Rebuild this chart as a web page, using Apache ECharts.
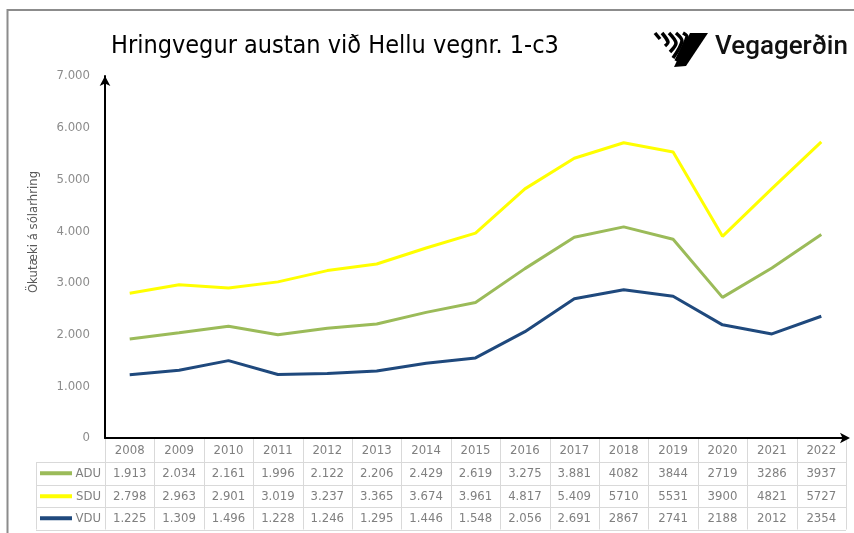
<!DOCTYPE html>
<html>
<head>
<meta charset="utf-8">
<script src="https://cdn.jsdelivr.net/npm/echarts@6/dist/echarts.min.js"></script>
<style>
  html, body { margin: 0; padding: 0; background: #fff; }
  #main { width: 854px; height: 533px; }
</style>
</head>
<body>
<div id="main"></div>
<script>
// ár
const years = ['2008', '2009', '2010', '2011', '2012', '2013', '2014', '2015',
  '2016', '2017', '2018', '2019', '2020', '2021', '2022'];
// ársdagsumferð
const aduValues = [1913, 2034, 2161, 1996, 2122, 2206, 2429, 2619, 3275, 3881, 4082, 3844, 2719, 3286, 3937];
// sumardagsumferð
const sduValues = [2798, 2963, 2901, 3019, 3237, 3365, 3674, 3961, 4817, 5409, 5710, 5531, 3900, 4821, 5727];
// vetrardagsumferð
const vduValues = [1225, 1309, 1496, 1228, 1246, 1295, 1446, 1548, 2056, 2691, 2867, 2741, 2188, 2012, 2354];
// í töflunni eru fyrstu tíu árin með punkti sem þúsundaskil
const dottedCount = 10;

const seriesList = [
  { name: 'ADU', data: aduValues, color: '#9bbb59' },
  { name: 'SDU', data: sduValues, color: '#ffff00' },
  { name: 'VDU', data: vduValues, color: '#1f497d' }
];

const narrow = "'Liberation Sans Narrow', 'DejaVu Sans Condensed', 'Roboto', sans-serif";

function dotted(v) {
  return String(v).replace(/\B(?=(\d{3})+(?!\d))/g, '.');
}

const chart = echarts.init(document.getElementById('main'));

chart.setOption({
  animation: false,
  backgroundColor: '#ffffff',
  grid: { left: 105, right: 8, top: 76, bottom: 95 },
  xAxis: {
    type: 'category',
    data: years,
    boundaryGap: true,
    axisLine: {
      lineStyle: { color: '#000', width: 2 },
      symbol: ['none', 'arrow'],
      symbolSize: [8, 10],
      symbolOffset: [0, 4]
    },
    axisTick: { show: false },
    axisLabel: { color: '#808080', fontSize: 13, fontFamily: narrow, margin: 6 }
  },
  yAxis: {
    type: 'value',
    min: 0,
    max: 7000,
    interval: 1000,
    axisLine: {
      show: true,
      lineStyle: { color: '#000', width: 2 },
      symbol: ['none', 'arrow'],
      symbolSize: [8, 10],
      symbolOffset: [0, 0]
    },
    axisTick: { show: false },
    splitLine: { show: false },
    axisLabel: {
      color: '#8c8c8c', fontSize: 13, fontFamily: narrow, margin: 15,
      formatter: v => dotted(v)
    }
  },
  series: seriesList.map(s => ({
    name: s.name,
    type: 'line',
    data: s.data,
    symbol: 'none',
    lineStyle: { color: s.color, width: 3 },
    itemStyle: { color: s.color }
  }))
});

// tafla undir ásnum
const cx0 = chart.convertToPixel({ xAxisIndex: 0 }, 0);
const cx1 = chart.convertToPixel({ xAxisIndex: 0 }, 1);
const colW = cx1 - cx0;
const tableLeft = cx0 - colW / 2;
const tableRight = tableLeft + colW * years.length;
const yZero = chart.convertToPixel({ yAxisIndex: 0 }, 0);
const legendLeft = 36;
const rowTops = [yZero + 24, yZero + 47, yZero + 69];
const rowH = 22.5;
const tableBottom = rowTops[2] + rowH;
const gridColor = '#d9d9d9';

const g = [];
function line(x1, y1, x2, y2, color, width) {
  g.push({ type: 'line', shape: { x1, y1, x2, y2 }, style: { stroke: color, lineWidth: width || 1 }, silent: true });
}

// lóðréttar línur
for (let i = 0; i <= years.length; i++) {
  const x = Math.round(tableLeft + colW * i) + 0.5;
  line(x, yZero + 1, x, tableBottom, gridColor);
}
line(legendLeft + 0.5, rowTops[0], legendLeft + 0.5, tableBottom, gridColor);
// láréttar línur
rowTops.forEach(t => line(legendLeft, Math.round(t) + 0.5, tableRight, Math.round(t) + 0.5, gridColor));
line(legendLeft, Math.round(tableBottom) + 0.5, tableRight, Math.round(tableBottom) + 0.5, gridColor);

seriesList.forEach((s, r) => {
  const cy = rowTops[r] + rowH / 2;
  line(legendLeft + 4, cy, legendLeft + 36, cy, s.color, 4);
  g.push({
    type: 'text', silent: true,
    style: { x: tableLeft - 4, y: cy, text: s.name, align: 'right', verticalAlign: 'middle',
      fill: '#808080', font: '13px ' + narrow }
  });
  s.data.forEach((v, i) => {
    g.push({
      type: 'text', silent: true,
      style: {
        x: chart.convertToPixel({ xAxisIndex: 0 }, i), y: cy,
        text: i < dottedCount ? dotted(v) : String(v),
        align: 'center', verticalAlign: 'middle',
        fill: '#808080', font: '13px ' + narrow
      }
    });
  });
});

// heiti lóðrétta ássins
g.push({
  type: 'text', silent: true, x: 34, y: 232, rotation: Math.PI / 2,
  style: { x: 0, y: 0, text: 'Ökutæki á sólarhring', align: 'center', verticalAlign: 'middle',
    fill: '#595959', font: '13px ' + narrow }
});

// rammi
line(7, 10, 854, 10, '#8c8c8c', 2);
line(7.5, 9, 7.5, 533, '#8c8c8c', 2);

// titill
g.push({
  type: 'text', silent: true,
  style: { x: 111, y: 46, text: 'Hringvegur austan við Hellu vegnr. 1-c3', verticalAlign: 'middle',
    fill: '#000', font: '25px ' + narrow }
});

// merki Vegagerðarinnar
g.push({ type: 'polygon', silent: true, shape: { points: [[690, 33], [708, 33], [686, 66], [674, 67]] }, style: { fill: '#000' } });
const stripes = [
  [[655, 33], [660, 39]],
  [[662, 33], [668, 42], [665, 46]],
  [[669, 33], [676, 43], [670, 52]],
  [[676, 33], [682, 41], [673, 58]],
  [[683, 33], [687, 37], [676, 61]]
];
stripes.forEach(p => g.push({ type: 'polyline', silent: true, shape: { points: p, smooth: 0.3 }, style: { stroke: '#000', lineWidth: 3.5, fill: null } }));
g.push({
  type: 'text', silent: true,
  style: { x: 715, y: 47, text: 'Vegagerðin', verticalAlign: 'middle', fill: '#111',
    font: '500 26px Roboto, sans-serif' }
});

chart.setOption({ graphic: g });
</script>
</body>
</html>
